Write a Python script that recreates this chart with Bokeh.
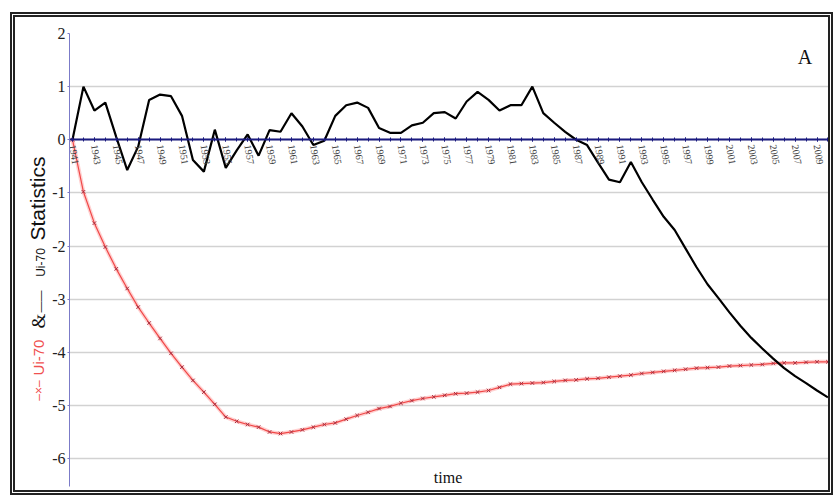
from bokeh.plotting import figure
from bokeh.models import Range1d, FixedTicker, Label
from bokeh.layouts import column, row
from bokeh.embed import file_html
from bokeh.resources import INLINE
import math

# ---- data ----
years = list(range(1941, 2011))
label_years = list(range(1941, 2010, 2))
y_ticks = [-6, -5, -4, -3, -2, -1, 0, 1, 2]

u_stat = [0.0, 1.0, 0.55, 0.7, 0.05, -0.57, -0.13, 0.75, 0.85, 0.82,
          0.45, -0.38, -0.6, 0.19, -0.53, -0.2, 0.1, -0.3, 0.18, 0.15,
          0.5, 0.25, -0.1, -0.02, 0.45, 0.65, 0.7, 0.6, 0.22, 0.13,
          0.13, 0.27, 0.32, 0.5, 0.52, 0.4, 0.72, 0.9, 0.75, 0.55,
          0.65, 0.65, 1.0, 0.5, 0.32, 0.15, 0.0, -0.1, -0.43, -0.75,
          -0.8, -0.42, -0.8, -1.13, -1.45, -1.7, -2.05, -2.4, -2.72, -2.98,
          -3.25, -3.5, -3.73, -3.93, -4.12, -4.3, -4.45, -4.58, -4.72, -4.85]

u_prog = [0.0, -0.98, -1.57, -2.02, -2.43, -2.8, -3.15, -3.45, -3.74, -4.02,
          -4.28, -4.53, -4.75, -4.98, -5.22, -5.3, -5.36, -5.41, -5.5, -5.53,
          -5.5, -5.46, -5.41, -5.36, -5.33, -5.26, -5.19, -5.13, -5.06, -5.02,
          -4.96, -4.91, -4.87, -4.84, -4.81, -4.78, -4.77, -4.75, -4.72, -4.66,
          -4.6, -4.59, -4.58, -4.57, -4.55, -4.53, -4.52, -4.5, -4.49, -4.47,
          -4.45, -4.43, -4.4, -4.38, -4.36, -4.34, -4.32, -4.3, -4.29, -4.28,
          -4.26, -4.25, -4.24, -4.23, -4.21, -4.2, -4.2, -4.19, -4.18, -4.18]

SERIF = "Liberation Serif"
SANS = "Liberation Sans"
H = 473
TOP = 16
BOT = 4

yr = Range1d(-6.527, 2)

p = figure(width=779, height=H, output_backend="svg", toolbar_location=None,
           x_range=Range1d(1940.727, 2010.05), y_range=yr,
           min_border_left=18, min_border_right=0, min_border_top=TOP,
           min_border_bottom=BOT, background_fill_color="white",
           border_fill_color="white")
p.outline_line_color = None

# grid
p.xgrid.visible = False
p.ygrid.ticker = FixedTicker(ticks=y_ticks)
p.ygrid.grid_line_color = "#d2d2d2"
p.ygrid.grid_line_width = 1.5

# y axis
p.yaxis.ticker = FixedTicker(ticks=y_ticks)
p.yaxis.major_label_overrides = {t: str(t) for t in y_ticks}
p.yaxis.axis_line_color = "#7b7bc8"
p.yaxis.major_tick_line_color = "#7b7bc8"
p.yaxis.major_tick_out = 2
p.yaxis.major_tick_in = 0
p.yaxis.minor_tick_line_color = None
p.yaxis.major_label_text_font = SERIF
p.yaxis.major_label_text_font_size = "16px"
p.yaxis.major_label_text_color = "#222222"
p.yaxis.major_label_standoff = 2

# x axis crossing at y = 0
p.xaxis.fixed_location = 0
p.xaxis.ticker = FixedTicker(ticks=label_years, minor_ticks=years)
p.xaxis.major_label_orientation = -1.4
p.xaxis.major_label_text_font = SERIF
p.xaxis.major_label_text_font_size = "10px"
p.xaxis.major_label_text_color = "#444444"
p.xaxis.major_label_standoff = 3
p.xaxis.axis_line_color = "#1a1a80"
p.xaxis.axis_line_width = 2.2
p.xaxis.major_tick_line_color = "#1a1a80"
p.xaxis.minor_tick_line_color = "#1a1a80"
p.xaxis.major_tick_in = 2
p.xaxis.major_tick_out = 2
p.xaxis.minor_tick_in = 2
p.xaxis.minor_tick_out = 2

# series
p.line(years, u_prog, line_color="#ffb0b0", line_width=4, line_alpha=0.6)
p.line(years, u_prog, line_color="#f04848", line_width=1.2)
p.scatter(years, u_prog, marker="x", size=5, line_color="#a83040", line_width=1)
p.line(years, u_stat, line_color="black", line_width=2.2)

# annotations
p.add_layout(Label(x=2007.9, y=1.55, text="A", text_font=SERIF,
                   text_font_size="20px", text_align="center",
                   text_baseline="middle", text_color="#111111"))
p.add_layout(Label(x=1975.3, y=-6.36, text="time", text_font=SERIF,
                   text_font_size="16px", text_align="center",
                   text_baseline="middle", text_color="#111111"))

# y-axis title strip (multi-coloured), shares the y scale of the chart
lab = figure(width=34, height=H, output_backend="svg", toolbar_location=None,
             x_range=Range1d(0, 1), y_range=yr, min_border_left=0,
             min_border_right=0, min_border_top=TOP, min_border_bottom=BOT,
             background_fill_color="white", border_fill_color="white")
lab.axis.visible = False
lab.grid.visible = False
lab.outline_line_color = None

ang = math.pi / 2
parts = [
    ("Statistics", 0.66, -1.106, SANS, "21px", "#111111"),
    ("Ui-70", 0.74, -2.311, SANS, "12px", "#111111"),
    ("\u2014\u2014", 0.72, -3.045, SANS, "11px", "#111111"),
    ("&", 0.68, -3.412, SERIF, "19px", "#111111"),
    ("Ui-70", 0.68, -4.099, SANS, "15px", "#f05050"),
    ("\u2013\u00d7\u2013", 0.68, -4.72, SANS, "12px", "#f05050"),
]
for txt, x, y, font, size, col in parts:
    lab.add_layout(Label(x=x, y=y, text=txt, text_font=font, text_font_size=size,
                         text_color=col, angle=ang, text_align="center",
                         text_baseline="middle"))

layout = column(row(lab, p),
                styles={"border": "5px double #222222", "background": "white",
                        "margin": "12px 0 0 10px"})

open("out.html", "w").write(file_html(layout, INLINE))
